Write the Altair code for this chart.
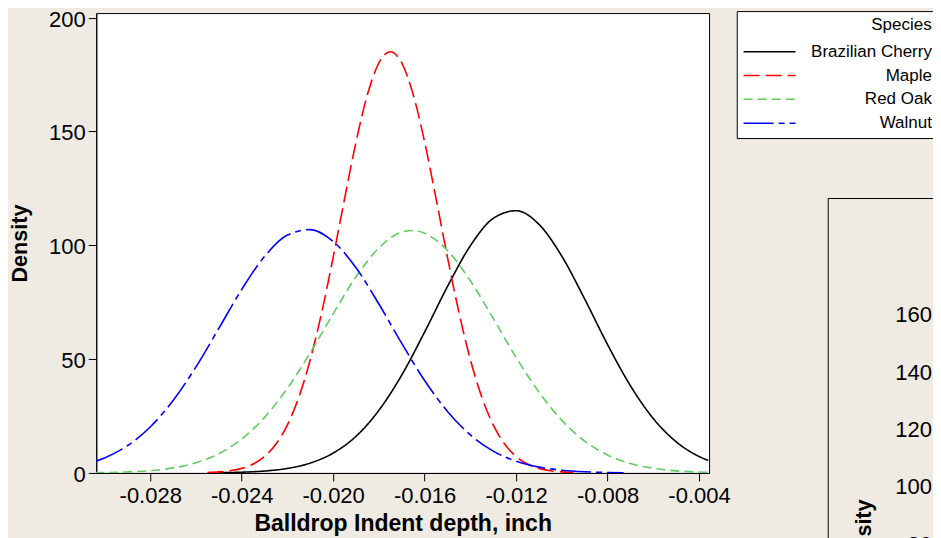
import altair as alt
import pandas as pd

FONT = "Liberation Sans"

species = ["Brazilian Cherry", "Maple", "Red Oak", "Walnut"]
colors = ["#000000", "#ff0000", "#5fcc5f", "#0000ff"]
dashes = [[1, 0], [16, 6], [9, 5], [30, 5, 6, 5]]

cherry_x = [-0.025, -0.024, -0.023, -0.022, -0.021, -0.020, -0.019, -0.018, -0.017, -0.016,
            -0.015, -0.014, -0.013, -0.012, -0.011, -0.010, -0.009, -0.008, -0.007, -0.006,
            -0.005, -0.004, -0.0036]
cherry_y = [0.11, 0.32, 0.84, 1.99, 4.34, 8.73, 16.1, 27.5, 43.0, 61.9,
            81.9, 99.8, 111.8, 115.2, 109.2, 95.2, 76.4, 56.4, 38.3, 23.9,
            13.7, 7.25, 5.5]

maple_x = [-0.0255, -0.025, -0.0245, -0.024, -0.0235, -0.023, -0.0225, -0.022, -0.0215, -0.021,
           -0.0205, -0.020, -0.0195, -0.019, -0.0185, -0.018, -0.0175, -0.017, -0.0165, -0.016,
           -0.0155, -0.015, -0.0145, -0.014, -0.0135, -0.013, -0.0125, -0.012, -0.0115, -0.011,
           -0.0105, -0.010, -0.0095]
maple_y = [0.19, 0.45, 0.97, 2.0, 3.9, 7.2, 12.7, 21.1, 33.3, 49.8,
           70.5, 94.7, 120.5, 145.4, 166.2, 180.1, 185.0, 180.1, 166.2, 145.4,
           120.5, 94.7, 70.5, 49.8, 33.3, 21.1, 12.7, 7.2, 3.9, 2.0,
           0.97, 0.45, 0.19]

redoak_x = [-0.0304, -0.030, -0.029, -0.028, -0.027, -0.026, -0.025, -0.024, -0.023, -0.022,
            -0.021, -0.020, -0.019, -0.018, -0.017, -0.0165, -0.016, -0.015, -0.014, -0.013,
            -0.012, -0.011, -0.010, -0.009, -0.008, -0.007, -0.006, -0.005, -0.004, -0.0036]
redoak_y = [0.12, 0.17, 0.43, 1.01, 2.21, 4.48, 8.46, 14.9, 24.4, 37.2,
            52.8, 69.9, 86.2, 98.9, 105.8, 106.5, 105.3, 97.7, 84.4, 67.9,
            50.8, 35.5, 23.1, 14.0, 7.87, 4.13, 2.02, 0.92, 0.39, 0.27]

walnut_x = [-0.0304, -0.030, -0.029, -0.028, -0.027, -0.026, -0.025, -0.024, -0.023, -0.022,
            -0.021, -0.020, -0.019, -0.018, -0.017, -0.016, -0.015, -0.014, -0.013, -0.012,
            -0.011, -0.010, -0.009, -0.008, -0.0073]
walnut_y = [5.08, 6.58, 11.95, 20.2, 31.8, 46.6, 63.5, 80.6, 95.1, 104.5,
            106.9, 101.7, 90.1, 74.2, 56.9, 40.6, 27.0, 16.7, 9.6, 5.15,
            2.56, 1.19, 0.51, 0.21, 0.10]

x_ticks = [-0.028, -0.024, -0.020, -0.016, -0.012, -0.008, -0.004]
y_ticks = [0, 50, 100, 150, 200]
panel2_ticks = [80, 100, 120, 140, 160]

rows = []
for name, xs, ys in [("Brazilian Cherry", cherry_x, cherry_y), ("Maple", maple_x, maple_y),
                     ("Red Oak", redoak_x, redoak_y), ("Walnut", walnut_x, walnut_y)]:
    for xv, yv in zip(xs, ys):
        rows.append({"species": name, "depth": xv, "density": yv})
df = pd.DataFrame(rows)

legend = alt.Legend(
    title="Species", orient="none", legendX=640.7, legendY=-2,
    fillColor="white", strokeColor="black", padding=6,
    titleAlign="right", titleAnchor="end", titleFontWeight="normal",
    titleFontSize=17, titleColor="black", titleFont=FONT, titlePadding=8.2,
    labelFont=FONT, labelFontSize=17, labelColor="black", labelAlign="right",
    labelOffset=170.2, symbolType="M-1,0H5", symbolSize=300, symbolStrokeWidth=1.5,
    symbolFillColor="transparent", rowPadding=5.8,
)

main = alt.Chart(df).mark_line(strokeWidth=1.6, interpolate="monotone", clip=True).encode(
    x=alt.X("depth:Q",
            scale=alt.Scale(domain=[-0.03036, -0.00356], nice=False, zero=False),
            axis=alt.Axis(values=x_ticks,
                          labelExpr="'-' + format(abs(datum.value), '.3f')",
                          title="Balldrop Indent depth, inch",
                          tickSize=8, labelPadding=4.5, titlePadding=6,
                          titleFontSize=23)),
    y=alt.Y("density:Q",
            scale=alt.Scale(domain=[0, 202], nice=False, zero=False),
            axis=alt.Axis(values=y_ticks, title="Density", tickSize=8, labelOffset=1.5,
                          labelPadding=3, titlePadding=17, titleFontSize=21.6)),
    color=alt.Color("species:N", scale=alt.Scale(domain=species, range=colors), legend=legend),
    strokeDash=alt.StrokeDash("species:N", scale=alt.Scale(domain=species, range=dashes), legend=legend),
).properties(width=613, height=460,
             view=alt.ViewBackground(stroke="black", strokeWidth=1, fill="white"))

p2df = pd.DataFrame({"v": panel2_ticks})

spacer = alt.Chart(p2df).mark_point(opacity=0, size=1).encode(
    x=alt.value(0), y=alt.value(0)
).properties(width=100, height=185)

panel2 = alt.Chart(p2df).mark_point(opacity=0, size=1).encode(
    y=alt.Y("v:Q",
            scale=alt.Scale(domain=[75.2, 200.8], nice=False, zero=False),
            axis=alt.Axis(values=panel2_ticks, offset=-114.8, title="Density",
                          domain=False, tickSize=8, labelPadding=3, titleFontSize=21.6,
                          titleX=-67.5, titleY=340))
).properties(width=116, height=360,
             view=alt.ViewBackground(stroke="black", strokeWidth=1))

right = alt.vconcat(spacer, panel2, spacing=0, bounds="flush")

chart = alt.hconcat(main, right, spacing=118.7, bounds="flush").properties(
    padding={"left": 0.3, "top": -1, "right": -12, "bottom": -22},
    background="#efebe2",
).configure(font=FONT).configure_view(stroke="transparent").configure_axis(
    grid=False, labelFont=FONT, titleFont=FONT, labelFontSize=22,
    labelColor="black", titleColor="black", tickColor="black", domainColor="black",
    titleFontWeight="bold",
)

chart.save("out.html", embed_options={"renderer": "svg", "actions": False})
